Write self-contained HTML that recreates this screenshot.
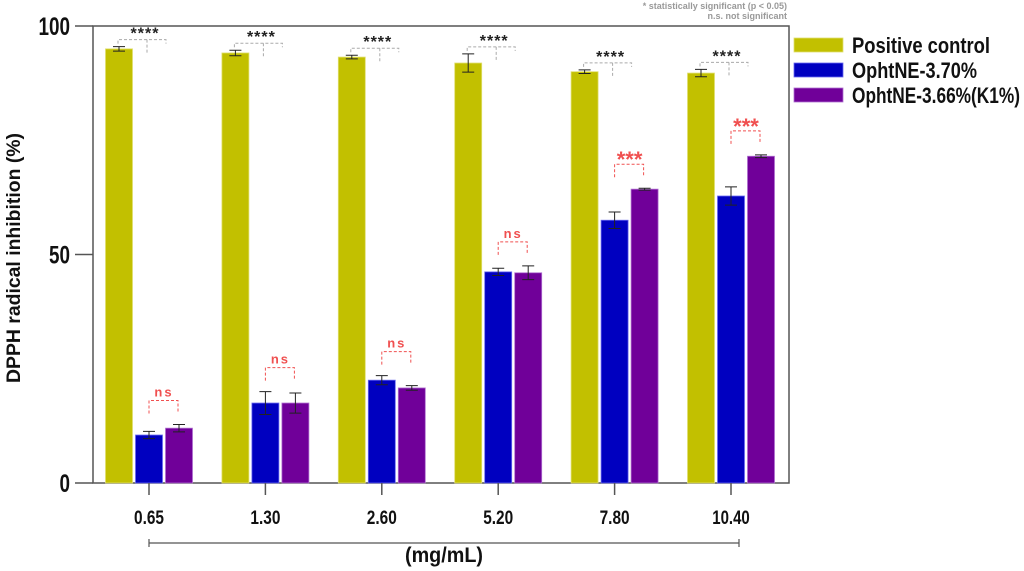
<!DOCTYPE html>
<html><head><meta charset="utf-8"><style>body{margin:0;background:#fff}svg{display:block}text{font-family:"Liberation Sans",sans-serif;font-weight:bold}</style></head>
<body>
<svg id="chart" width="1024" height="571" viewBox="0 0 1024 571">
<g id="g"></g>
</svg>
<script>
const categories=["0.65","1.30","2.60","5.20","7.80","10.40"];
const positiveControl=[95.0,94.1,93.2,91.9,90.0,89.7];
const positiveErr=[0.5,0.6,0.4,2.0,0.4,0.8];
const ophtA=[10.5,17.5,22.5,46.2,57.5,62.8];
const ophtAErr=[0.8,2.5,1.0,0.8,1.8,2.0];
const ophtB=[12.0,17.5,20.8,46.0,64.3,71.5];
const ophtBErr=[0.8,2.2,0.5,1.5,0.2,0.3];
const sigLabels=["ns","ns","ns","ns","***","***"];
const yTicks=[0,50,100];
const NS="http://www.w3.org/2000/svg";
const g=document.getElementById('g');
const X0=93,X1=789,Y0=483,Y1=26;
const y=v=>Y0-(v/100)*(Y0-Y1);
const xc=i=>149+i*116.4;
function el(t,a,p){const e=document.createElementNS(NS,t);for(const k in a)e.setAttribute(k,a[k]);(p||g).appendChild(e);return e;}
let f=el('rect',{x:X0,y:Y1,width:X1-X0,height:Y0-Y1,fill:'none',stroke:'#555','stroke-width':1.5});

yTicks.forEach(t=>{let l=el('line',{x1:75,x2:X0,y1:y(t),y2:y(t),stroke:'#555','stroke-width':1.5});

let tx=el('text',{x:70,y:y(t)+9,'text-anchor':'end','font-size':25,fill:'#111',textLength:String(t).length*10.5,lengthAdjust:'spacingAndGlyphs'});tx.textContent=t;
});
let yt=el('text',{x:0,y:0,transform:'translate(20,258) rotate(-90)','text-anchor':'middle','font-size':19,fill:'#111',textLength:250,lengthAdjust:'spacingAndGlyphs'});
yt.textContent='DPPH radical inhibition (%)';
const series=[[positiveControl,positiveErr,'#c2c000','#e0df70'],[ophtA,ophtAErr,'#0000c0','#6a6af0'],[ophtB,ophtBErr,'#700099','#b070d0']];
categories.forEach((c,i)=>{
  const cx=xc(i);
  series.forEach((s,j)=>{
    const bx=cx+(j-1)*30-13.5;const v=s[0][i],e=s[1][i];
    let r=el('rect',{x:bx,y:y(v),width:27,height:Y0-y(v),fill:s[2],stroke:s[3],'stroke-width':0.8});
    
    const mx=bx+13.5;
    let eb=el('path',{d:`M${mx},${y(v+e)}V${y(v-e)}M${mx-6},${y(v+e)}H${mx+6}M${mx-6},${y(v-e)}H${mx+6}`,stroke:'#222','stroke-width':1,fill:'none'});
    
  });
  let tk=el('line',{x1:cx,x2:cx,y1:Y0,y2:Y0+12,stroke:'#555','stroke-width':1.5});
  
  let tl=el('text',{x:cx,y:Y0+41,'text-anchor':'middle','font-size':19,fill:'#111',textLength:c.length*7.5,lengthAdjust:'spacingAndGlyphs'});tl.textContent=c;
  
  const by=y(positiveControl[i]+positiveErr[i])-7;
  let b1=el('path',{d:`M${cx-31},${by+4}V${by}H${cx+17}V${by+4}M${cx-2},${by}V${by+13}`,stroke:'#aaa','stroke-width':1,'stroke-dasharray':'3,2',fill:'none'});
  
  let s1=el('text',{x:cx-4,y:by-1,'text-anchor':'middle','font-size':16,fill:'#222','letter-spacing':1});s1.textContent='****';
  
  const top=Math.max(ophtA[i]+ophtAErr[i],ophtB[i]+ophtBErr[i]);const ry=y(top)-24;
  let b2=el('path',{d:`M${cx},${ry+13}V${ry}H${cx+29}V${ry+13}`,stroke:'#f05050','stroke-width':1,'stroke-dasharray':'3,2',fill:'none'});
  
  const st=sigLabels[i]==='ns';
  let s2=el('text',{x:cx+15,y:st?ry-4:ry+3,'text-anchor':'middle','font-size':st?13:22,fill:'#f05050','font-weight':st?'normal':'bold','letter-spacing':st?2:0});s2.textContent=sigLabels[i];
  
});
let xl=el('path',{d:`M${xc(0)},543H739M${xc(0)},539V547M739,539V547`,stroke:'#555','stroke-width':1.2,fill:'none'});

let xt=el('text',{x:444,y:562,'text-anchor':'middle','font-size':21,fill:'#111',textLength:78,lengthAdjust:'spacingAndGlyphs'});xt.textContent='(mg/mL)';

let n1=el('text',{x:787,y:9,'text-anchor':'end','font-size':9,fill:'#999','font-weight':'normal'});n1.textContent='* statistically significant (p < 0.05)';

let n2=el('text',{x:787,y:19,'text-anchor':'end','font-size':9,fill:'#999','font-weight':'normal'});n2.textContent='n.s. not significant';

const legendNames=['Positive control','OphtNE-3.70%','OphtNE-3.66%(K1%)'];
const legendLens=[138,125,168];
legendNames.forEach((n,j)=>{const ly=38+j*25;
  let r=el('rect',{x:794,y:ly,width:49,height:14,fill:series[j][2],stroke:series[j][3],'stroke-width':0.8});
  
  let t=el('text',{x:852,y:ly+15,'font-size':22,fill:'#111',textLength:legendLens[j],lengthAdjust:'spacingAndGlyphs'});t.textContent=n;
  });
</script>
</body></html>
